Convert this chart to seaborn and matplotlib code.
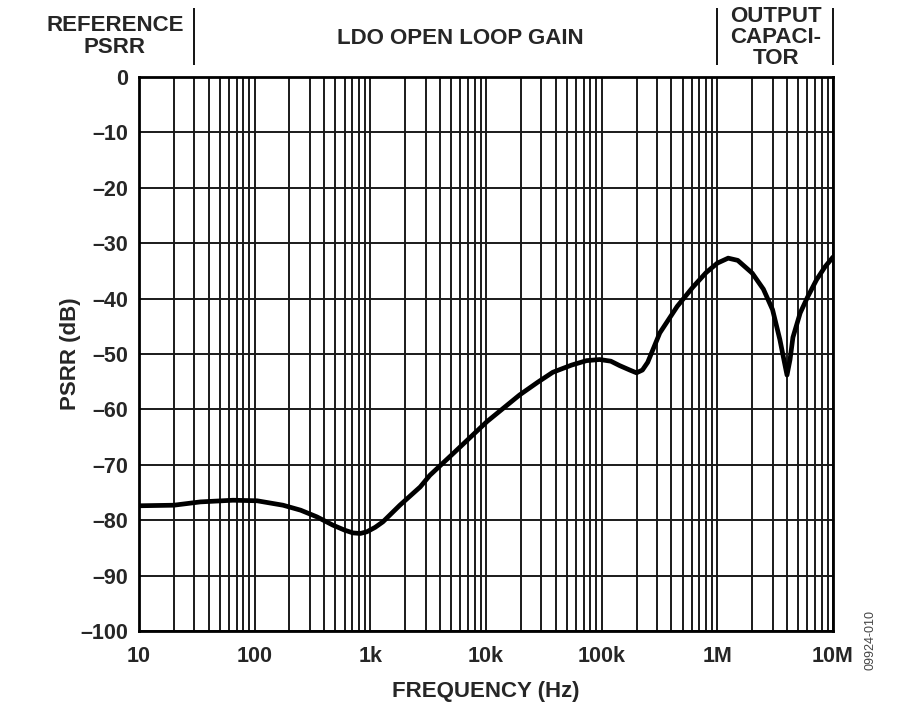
import numpy as np
import pandas as pd
import seaborn as sns
import matplotlib.pyplot as plt
from matplotlib.ticker import FixedLocator, LogLocator, NullFormatter
import matplotlib.transforms as mtransforms

# PSRR curve
freq = [10, 20, 34, 65, 105, 176, 250, 345, 475, 600, 708, 820, 933, 1100, 1285,
        1800, 2700, 3270, 5180, 10200, 19500, 28000, 37800, 55000, 74000, 96000,
        120000, 143000, 175000, 200000, 225000, 250000, 318000, 450000, 616000,
        800000, 1000000, 1240000, 1500000, 2000000, 2500000, 3000000, 3470000,
        3800000, 4000000, 4250000, 4500000, 5200000, 6000000, 7200000, 8500000,
        10000000]
psrr = [-77.4, -77.3, -76.7, -76.4, -76.5, -77.3, -78.2, -79.4, -80.9, -81.8,
        -82.3, -82.4, -82.1, -81.3, -80.3, -77.3, -74.0, -71.9, -68.0, -62.2,
        -57.4, -55.1, -53.3, -52.0, -51.2, -51.0, -51.3, -52.1, -52.9, -53.4,
        -52.9, -51.5, -46.2, -41.4, -37.9, -35.3, -33.6, -32.7, -33.1, -35.4,
        -38.3, -42.0, -47.4, -51.5, -53.8, -51.0, -47.0, -42.6, -39.8, -36.6,
        -34.3, -32.5]

x_ticks = [10, 100, 1e3, 1e4, 1e5, 1e6, 1e7]
x_labels = ["10", "100", "1k", "10k", "100k", "1M", "10M"]
y_ticks = list(range(0, -101, -10))
y_labels = ["0"] + ["\u2013%d" % abs(v) for v in y_ticks[1:]]

# region labels above the plot and the frequencies of the dividers
regions = ["REFERENCE\nPSRR", "LDO OPEN LOOP GAIN", "OUTPUT\nCAPACI-\nTOR"]
region_x = [6.2, 5950, 3.2e6]
dividers = [30, 1e6, 1e7]

sns.set_style("white")
plt.rcParams['font.family'] = ['Liberation Sans', 'DejaVu Sans']
plt.rcParams['font.weight'] = 'bold'

df = pd.DataFrame({"freq": freq, "psrr": psrr})

fig = plt.figure(figsize=(9, 7.17), dpi=100)
ax = fig.add_axes([0.1544, 0.12, 0.7712, 0.7726])

sns.lineplot(data=df, x="freq", y="psrr", ax=ax, color="black", linewidth=3.4,
             zorder=5)

ax.set_xscale("log")
ax.set_xlim(10, 1e7)
ax.set_ylim(-100, 0)
ax.xaxis.set_major_locator(FixedLocator(x_ticks))
ax.set_xticklabels(x_labels)
ax.xaxis.set_minor_locator(LogLocator(base=10, subs=np.arange(2, 10)))
ax.xaxis.set_minor_formatter(NullFormatter())
ax.set_yticks(y_ticks)
ax.set_yticklabels(y_labels)

ax.grid(which="both", axis="x", color="#1a1a1a", linewidth=1.4)
ax.grid(which="major", axis="y", color="#1a1a1a", linewidth=1.4)
ax.tick_params(which="both", length=0, labelsize=15.5)
ax.tick_params(axis="x", pad=11)
ax.tick_params(axis="y", pad=8)
for lab in ax.get_xticklabels() + ax.get_yticklabels():
    lab.set_fontweight("bold")
for s in ax.spines.values():
    s.set_color("black")
    s.set_linewidth(2)

ax.set_xlabel("FREQUENCY (Hz)", fontsize=16, fontweight="bold", labelpad=10)
ax.set_ylabel("PSRR (dB)", fontsize=16, fontweight="bold", labelpad=-1)

trans = mtransforms.blended_transform_factory(ax.transData, ax.transAxes)
ax.vlines(dividers, 1.022, 1.125, transform=trans, color="black",
          linewidth=1.3, clip_on=False)
ax.text(region_x[0], 1.073, regions[0], transform=trans, ha="center",
        va="center", fontsize=16, fontweight="bold", linespacing=1.1)
ax.text(region_x[1], 1.069, regions[1], transform=trans, ha="center",
        va="center", fontsize=16, fontweight="bold")
ax.text(region_x[2], 1.071, regions[2], transform=trans, ha="center",
        va="center", fontsize=16, fontweight="bold", linespacing=1.0)

fig.text(0.967, 0.065, "09924-010", rotation=90, ha="center", va="bottom",
         fontsize=9, fontweight="normal", color="#444444")

fig.savefig("out.png", dpi=100, facecolor="white")
